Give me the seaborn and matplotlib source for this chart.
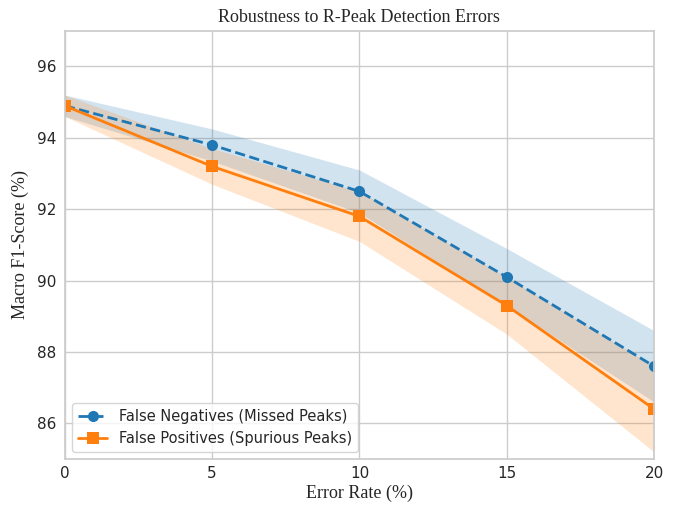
import numpy as np
import pandas as pd
import matplotlib
matplotlib.use("Agg")
import matplotlib.pyplot as plt
import seaborn as sns

error_rates = [0, 5, 10, 15, 20]
fn_f1 = [94.9, 93.8, 92.5, 90.1, 87.6]
fn_band = [0.3, 0.45, 0.6, 0.8, 1.0]
fp_f1 = [94.9, 93.2, 91.8, 89.3, 86.4]
fp_band = [0.3, 0.5, 0.7, 0.8, 1.2]
series_names = ["False Negatives (Missed Peaks)", "False Positives (Spurious Peaks)"]

sns.set_theme(style="whitegrid")
plt.rcParams['font.family'] = ['DejaVu Sans']

fig = plt.figure(figsize=(6.75, 5.05), dpi=100)
ax = fig.add_axes([0.096, 0.091, 0.873, 0.848])

df = pd.DataFrame({
    "rate": error_rates * 2,
    "f1": fn_f1 + fp_f1,
    "series": [series_names[0]] * 5 + [series_names[1]] * 5,
})

colors = ["#1f77b4", "#ff7f0e"]
sns.lineplot(data=df[df.series == series_names[0]], x="rate", y="f1", ax=ax,
             color=colors[0], linestyle="--", marker="o", markersize=8,
             linewidth=2, markeredgewidth=0, label=series_names[0])
sns.lineplot(data=df[df.series == series_names[1]], x="rate", y="f1", ax=ax,
             color=colors[1], linestyle="-", marker="s", markersize=8,
             linewidth=2, markeredgewidth=0, label=series_names[1])

x = np.array(error_rates)
ax.fill_between(x, np.array(fn_f1) - np.array(fn_band), np.array(fn_f1) + np.array(fn_band),
                color=colors[0], alpha=0.2, linewidth=0)
ax.fill_between(x, np.array(fp_f1) - np.array(fp_band), np.array(fp_f1) + np.array(fp_band),
                color=colors[1], alpha=0.2, linewidth=0)

ax.set_xlim(0, 20)
ax.set_ylim(85, 97)
ax.set_xticks([0, 5, 10, 15, 20])
ax.set_yticks([86, 88, 90, 92, 94, 96])
ax.tick_params(axis='x', labelsize=11, pad=5, length=0)
ax.tick_params(axis='y', labelsize=11, pad=6, length=0)

serif = ['Liberation Serif', 'DejaVu Serif']
ax.set_title("Robustness to R-Peak Detection Errors", family=serif, fontsize=13, pad=6)
ax.set_xlabel("Error Rate (%)", family=serif, fontsize=13, labelpad=3)
ax.set_ylabel("Macro F1-Score (%)", family=serif, fontsize=13, labelpad=6)

ax.legend(loc="lower left", fontsize=10.5, frameon=True)

fig.savefig("out.png", dpi=100)
